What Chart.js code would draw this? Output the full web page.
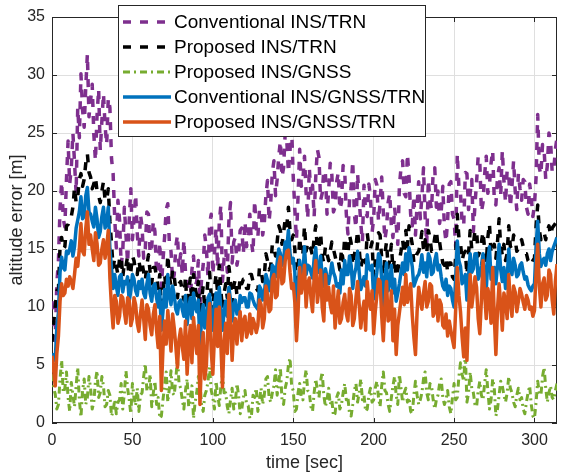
<!DOCTYPE html>
<html>
<head>
<meta charset="utf-8">
<script src="https://cdn.jsdelivr.net/npm/chart.js@4"></script>
<style>
  html, body { margin: 0; padding: 0; background: #fff; }
  #wrap { width: 565px; height: 476px; }
</style>
</head>
<body>
<div id="wrap"><canvas id="chart" width="565" height="476"></canvas></div>
<script>
// sample spacing of the logged errors [sec]
const dt = 1;

// altitude error [m], one value per second from t = 0 to t = 314 (10 s per row)
const convInsTrn = [
  10.5, 9.0, 7.1, 12.0, 14.0, 18.5, 20.8, 17.6, 16.9, 21.0,
  24.3, 20.6, 22.0, 25.0, 22.5, 19.8, 27.2, 24.6, 30.1, 27.0,
  25.5, 29.0, 31.8, 26.4, 27.8, 29.2, 24.9, 22.6, 26.5, 28.8,
  23.5, 26.0, 28.4, 25.6, 24.0, 28.0, 27.2, 22.8, 21.5, 17.6,
  15.1, 19.2, 17.5, 13.6, 14.8, 18.6, 16.2, 13.8, 17.4, 20.2,
  15.8, 17.6, 19.7, 16.4, 14.4, 18.0, 16.9, 14.2, 15.0, 18.2,
  18.0, 14.6, 15.2, 17.4, 16.5, 12.8, 13.5, 15.6, 11.7, 14.0,
  16.0, 18.4, 18.9, 15.4, 14.8, 12.2, 12.8, 15.2, 16.2, 13.4,
  14.6, 12.8, 15.8, 13.0, 12.0, 10.4, 10.5, 13.2, 14.4, 11.8,
  12.2, 14.0, 10.2, 12.4, 13.6, 16.2, 15.0, 12.6, 17.2, 18.0,
  12.8, 14.6, 16.8, 13.4, 17.2, 18.8, 12.2, 14.2, 15.0, 13.0,
  17.4, 19.0, 13.8, 15.6, 16.0, 13.6, 14.5, 16.6, 16.8, 14.6,
  17.4, 15.2, 16.3, 18.0, 15.6, 14.6, 19.2, 16.8, 16.0, 18.4,
  18.5, 16.2, 17.2, 19.6, 20.9, 17.4, 19.0, 21.6, 22.6, 19.6,
  21.0, 23.0, 24.3, 21.2, 22.0, 25.0, 24.3, 21.6, 23.5, 25.4,
  21.2, 18.4, 15.8, 19.6, 23.6, 20.4, 21.0, 23.0, 19.8, 17.6,
  22.0, 19.6, 20.5, 17.8, 21.2, 23.6, 22.9, 19.2, 19.8, 21.8,
  21.5, 18.0, 20.0, 22.4, 21.4, 18.2, 18.6, 20.8, 21.6, 18.4,
  19.0, 22.2, 21.8, 18.0, 16.3, 19.2, 20.3, 22.6, 18.0, 16.8,
  21.5, 19.4, 17.2, 15.6, 20.5, 18.2, 17.8, 20.6, 19.6, 16.4,
  17.6, 21.0, 20.5, 17.4, 19.0, 21.2, 18.2, 15.8, 16.8, 19.0,
  19.8, 17.0, 16.0, 18.6, 17.2, 15.4, 20.4, 22.0, 22.6, 19.8,
  19.5, 23.2, 21.2, 18.0, 17.0, 19.6, 16.2, 18.8, 20.8, 17.6,
  19.5, 22.0, 17.8, 15.4, 21.0, 19.2, 18.4, 21.6, 22.0, 18.6,
  20.0, 17.2, 18.2, 20.4, 16.8, 15.6, 17.5, 20.6, 20.8, 18.0,
  17.6, 15.2, 23.2, 20.4, 19.8, 17.2, 17.0, 21.6, 21.5, 18.4,
  19.8, 21.0, 16.5, 18.8, 20.8, 23.0, 22.5, 18.2, 19.0, 21.4,
  23.0, 19.8, 20.5, 22.4, 23.5, 19.2, 18.8, 21.2, 22.0, 19.6,
  23.5, 20.8, 19.0, 21.8, 21.4, 18.6, 20.4, 22.6, 20.0, 18.4,
  21.5, 20.2, 19.2, 21.0, 20.8, 18.6, 18.0, 20.6, 19.5, 17.8,
  18.8, 21.2, 26.6, 22.0, 21.4, 24.0, 23.5, 21.0, 22.2, 25.0,
  24.3, 21.6, 21.8, 23.6, 24.6
];
const propInsTrn = [
  7.0, 8.6, 10.0, 11.4, 11.5, 15.2, 16.0, 15.0, 15.2, 17.0,
  17.1, 17.6, 17.8, 18.6, 20.3, 19.0, 19.5, 21.0, 21.5, 20.4,
  21.0, 22.4, 23.2, 21.6, 21.2, 20.2, 20.6, 21.2, 20.0, 19.6,
  19.0, 20.0, 20.8, 19.2, 19.2, 20.2, 17.4, 15.5, 13.4, 14.2,
  13.5, 12.8, 14.2, 14.4, 12.6, 13.8, 13.5, 14.4, 12.0, 13.0,
  14.4, 14.0, 13.0, 12.8, 14.0, 13.2, 13.8, 13.0, 12.3, 13.6,
  14.5, 13.0, 12.0, 13.4, 13.4, 12.6, 11.6, 12.8, 9.4, 11.2,
  12.8, 11.6, 14.5, 12.6, 11.8, 13.2, 12.6, 11.4, 10.8, 12.0,
  12.2, 11.4, 10.6, 12.6, 9.8, 11.4, 12.5, 10.6, 12.8, 11.6,
  11.0, 12.2, 8.2, 10.6, 11.8, 9.8, 10.6, 12.4, 13.0, 11.0,
  9.6, 11.6, 12.8, 11.2, 13.6, 11.4, 9.8, 11.2, 12.0, 10.8,
  13.5, 12.2, 10.4, 11.8, 12.4, 11.0, 11.0, 12.6, 12.0, 12.4,
  12.4, 11.6, 11.6, 12.8, 12.8, 12.2, 11.8, 11.6, 11.4, 13.4,
  13.2, 12.2, 12.6, 14.6, 14.0, 13.2, 13.5, 15.4, 15.2, 14.4,
  15.6, 17.0, 16.6, 15.4, 16.4, 17.6, 17.0, 18.6, 16.6, 15.8,
  16.2, 15.0, 10.0, 13.2, 16.0, 14.4, 14.6, 17.0, 14.8, 15.6,
  15.2, 15.0, 14.4, 16.0, 17.0, 15.0, 15.0, 16.4, 14.4, 13.8,
  15.2, 14.6, 14.0, 14.8, 15.6, 15.0, 14.4, 13.8, 14.0, 13.2,
  15.0, 14.0, 16.0, 14.6, 14.6, 16.2, 15.5, 13.6, 14.5, 15.2,
  16.6, 15.0, 13.4, 14.0, 14.5, 13.8, 16.4, 15.2, 15.0, 15.6,
  12.6, 14.0, 14.8, 16.4, 16.2, 14.2, 12.0, 14.6, 15.6, 13.4,
  14.0, 15.4, 13.2, 14.2, 12.6, 13.2, 14.0, 14.8, 15.8, 14.6,
  16.6, 15.2, 17.0, 16.2, 15.4, 13.8, 14.2, 14.6, 14.8, 15.4,
  16.5, 15.0, 15.8, 14.6, 16.6, 16.0, 14.8, 15.0, 16.0, 16.6,
  15.2, 15.6, 14.6, 13.8, 13.6, 14.2, 13.0, 13.8, 13.8, 12.6,
  12.4, 14.4, 18.0, 16.0, 15.5, 14.0, 14.6, 14.8, 12.8, 14.6,
  16.6, 15.0, 15.4, 16.6, 16.6, 14.4, 14.8, 15.6, 16.5, 15.0,
  13.8, 16.0, 17.2, 14.6, 15.0, 15.4, 14.2, 15.6, 17.6, 15.2,
  14.5, 15.4, 14.0, 14.6, 17.0, 15.2, 15.0, 16.2, 15.8, 14.8,
  15.0, 15.6, 15.8, 15.2, 14.6, 14.6, 14.0, 13.8, 13.6, 14.0,
  14.2, 17.0, 18.8, 16.6, 15.8, 16.2, 16.4, 15.8, 16.6, 17.0,
  16.2, 16.8, 17.0, 17.2, 17.4
];
const propInsGnss = [
  4.2, 3.0, 2.5, 1.2, 1.6, 3.8, 5.4, 2.6, 3.0, 4.4,
  2.2, 1.0, 3.5, 2.4, 1.4, 3.2, 4.8, 2.0, 0.5, 2.8,
  3.8, 1.6, 2.2, 4.0, 3.0, 1.2, 1.8, 3.6, 4.5, 2.2,
  2.6, 4.0, 3.2, 1.4, 1.6, 2.8, 2.4, 0.6, 1.0, 2.0,
  0.8, 1.8, 2.0, 3.4, 1.2, 2.6, 4.5, 3.0, 2.0, 0.8,
  3.4, 2.2, 1.5, 3.0, 1.0, 2.4, 2.6, 4.0, 5.1, 2.8,
  2.8, 4.2, 1.4, 2.6, 3.6, 1.6, 2.2, 0.4, 0.6, 2.0,
  3.2, 4.4, 1.8, 3.0, 4.5, 2.6, 2.4, 3.8, 5.6, 3.4,
  3.0, 2.0, 1.2, 2.8, 3.8, 1.4, 2.0, 3.2, 0.4, 1.8,
  2.6, 4.0, 3.5, 1.6, 1.0, 2.4, 2.8, 3.6, 4.8, 2.8,
  2.2, 1.2, 3.6, 2.4, 1.5, 3.2, 4.2, 2.6, 2.6, 1.4,
  0.8, 2.0, 3.0, 1.2, 1.8, 3.4, 2.4, 0.8, 1.2, 2.2,
  2.8, 1.6, 1.5, 0.4, 0.6, 2.4, 2.2, 3.0, 1.0, 2.0,
  3.0, 1.6, 2.4, 3.8, 4.0, 2.2, 1.8, 2.6, 3.2, 4.6,
  2.4, 3.4, 4.8, 2.0, 1.6, 3.0, 3.6, 5.0, 5.6, 3.2,
  2.8, 1.0, 1.2, 2.6, 3.4, 2.2, 2.0, 3.6, 4.6, 2.8,
  2.6, 1.4, 1.0, 2.6, 3.8, 2.8, 2.2, 3.6, 4.4, 2.4,
  1.4, 2.0, 3.0, 1.6, 2.0, 0.6, 0.8, 2.2, 2.6, 1.2,
  1.6, 2.6, 3.4, 2.0, 2.2, 0.8, 0.6, 1.6, 2.8, 3.4,
  1.8, 2.6, 3.8, 2.0, 2.4, 1.0, 1.2, 2.4, 3.0, 1.8,
  2.0, 3.0, 3.6, 2.2, 1.4, 3.2, 4.4, 2.8, 2.6, 1.6,
  1.0, 2.2, 3.2, 4.0, 2.4, 1.6, 4.2, 3.0, 1.8, 2.6,
  3.0, 1.8, 2.2, 1.0, 0.8, 2.4, 3.6, 2.4, 1.6, 2.0,
  2.6, 3.8, 4.4, 2.6, 2.0, 3.4, 3.2, 2.0, 1.2, 2.0,
  2.4, 3.4, 3.8, 2.2, 1.6, 2.0, 2.8, 1.4, 0.8, 2.2,
  3.4, 2.0, 2.2, 4.0, 5.2, 4.2, 3.6, 6.0, 1.8, 2.6,
  4.4, 3.0, 2.6, 1.6, 1.4, 2.8, 3.6, 2.4, 2.0, 3.4,
  4.6, 2.8, 1.2, 2.0, 3.8, 3.0, 0.6, 1.2, 2.4, 3.6,
  3.2, 2.4, 1.8, 2.6, 4.0, 3.0, 2.6, 1.8, 1.4, 2.4,
  3.0, 2.0, 2.2, 1.2, 0.8, 1.8, 2.6, 3.2, 1.6, 0.6,
  0.4, 1.8, 3.6, 2.6, 2.4, 4.0, 4.8, 3.0, 1.8, 2.6,
  3.2, 2.2, 2.0, 2.8, 3.4
];
const convInsGnssTrn = [
  6.0, 5.6, 5.4, 8.2, 9.5, 13.0, 14.3, 13.4, 13.2, 14.8,
  14.6, 15.0, 15.7, 14.4, 15.2, 16.8, 17.5, 18.2, 19.5, 17.6,
  17.8, 19.6, 20.3, 18.2, 18.0, 17.4, 16.9, 18.6, 17.6, 16.0,
  16.5, 17.8, 18.6, 16.8, 17.3, 18.6, 15.0, 13.4, 11.6, 12.8,
  11.8, 11.0, 12.6, 12.8, 11.3, 12.2, 12.0, 12.6, 10.5, 11.4,
  12.8, 12.4, 11.4, 11.0, 12.2, 11.6, 12.4, 11.2, 10.8, 12.0,
  12.8, 11.2, 10.5, 11.8, 12.0, 10.8, 10.0, 11.4, 8.0, 9.6,
  11.5, 10.0, 12.8, 11.0, 10.2, 11.8, 11.0, 9.8, 9.4, 10.4,
  10.6, 9.8, 9.2, 11.0, 8.5, 9.8, 10.8, 9.0, 11.2, 10.0,
  9.6, 10.6, 6.5, 9.0, 10.2, 8.2, 9.0, 10.8, 11.1, 9.4,
  8.0, 10.0, 11.2, 9.6, 11.7, 9.8, 8.0, 9.6, 10.5, 9.2,
  11.7, 10.6, 8.8, 10.2, 10.6, 9.4, 9.5, 11.0, 10.4, 10.8,
  10.8, 10.0, 10.0, 11.2, 11.1, 10.6, 10.2, 10.0, 9.8, 11.8,
  11.5, 10.6, 11.0, 12.8, 12.3, 11.4, 11.8, 13.6, 13.4, 12.6,
  13.8, 15.0, 14.6, 13.6, 14.0, 15.6, 15.1, 16.6, 14.6, 13.8,
  14.2, 13.0, 8.2, 11.4, 14.0, 12.4, 12.8, 15.2, 12.8, 13.6,
  13.5, 13.0, 12.5, 14.2, 15.1, 13.0, 13.0, 14.4, 12.6, 11.8,
  13.3, 12.6, 12.0, 12.8, 13.8, 13.0, 12.6, 11.8, 12.0, 11.2,
  13.2, 12.0, 14.0, 12.8, 12.8, 14.4, 13.6, 11.6, 12.8, 13.4,
  14.8, 13.0, 11.5, 12.0, 12.6, 11.8, 14.5, 13.4, 13.2, 13.6,
  10.7, 12.0, 13.0, 14.6, 14.3, 12.4, 10.0, 12.6, 13.8, 11.4,
  12.0, 13.6, 11.2, 12.4, 10.5, 11.2, 12.0, 13.0, 13.8, 12.8,
  14.6, 13.2, 15.1, 14.4, 13.5, 11.8, 12.2, 12.6, 12.8, 13.4,
  14.5, 13.0, 13.8, 12.6, 14.6, 14.2, 12.8, 13.0, 14.0, 14.6,
  13.2, 13.6, 12.6, 11.8, 11.5, 12.4, 11.0, 11.8, 11.6, 10.6,
  10.0, 12.4, 15.7, 14.0, 13.5, 12.0, 12.4, 12.8, 10.6, 12.6,
  14.6, 13.0, 13.3, 14.6, 14.6, 12.4, 12.8, 13.6, 14.6, 13.0,
  11.5, 14.0, 15.2, 12.4, 12.8, 13.4, 12.0, 13.6, 15.4, 13.2,
  12.2, 13.4, 11.6, 12.4, 15.0, 13.2, 12.8, 14.2, 13.6, 12.6,
  12.8, 13.6, 13.8, 13.0, 12.4, 12.6, 11.9, 11.6, 11.4, 11.8,
  12.0, 15.2, 17.4, 14.6, 13.5, 14.0, 14.2, 13.6, 14.6, 15.0,
  14.0, 14.8, 15.2, 15.6, 16.0
];
const propInsGnssTrn = [
  5.8, 4.6, 3.2, 6.0, 7.5, 10.5, 12.0, 11.0, 11.2, 12.4,
  11.8, 12.6, 12.2, 11.6, 12.8, 14.2, 13.5, 15.0, 17.2, 14.8,
  14.5, 16.8, 18.2, 15.4, 16.2, 15.0, 14.0, 16.4, 15.5, 13.6,
  13.8, 15.0, 15.8, 14.2, 15.2, 16.6, 12.5, 10.0, 8.2, 11.0,
  10.5, 8.6, 9.2, 11.0, 10.8, 9.6, 8.6, 10.8, 10.6, 8.4,
  9.0, 10.8, 10.2, 8.6, 7.9, 9.4, 10.6, 9.0, 7.2, 10.2,
  9.8, 8.4, 7.6, 9.4, 10.2, 8.0, 6.5, 9.2, 2.8, 6.4,
  8.8, 6.8, 9.7, 8.0, 6.2, 9.4, 8.2, 6.6, 4.8, 7.2,
  8.1, 6.6, 5.5, 8.8, 4.2, 6.8, 8.4, 5.2, 9.1, 7.4,
  6.0, 8.4, 1.6, 5.8, 7.8, 3.8, 5.0, 8.6, 10.3, 6.2,
  4.2, 7.4, 9.8, 6.6, 10.0, 6.8, 3.1, 7.0, 8.6, 6.0,
  11.1, 8.8, 5.4, 8.2, 9.0, 6.8, 8.5, 9.6, 7.1, 8.8,
  9.2, 7.4, 8.0, 9.4, 7.7, 9.0, 8.5, 7.8, 8.4, 10.6,
  10.2, 8.2, 9.0, 11.8, 11.1, 9.6, 9.8, 12.4, 12.8, 10.8,
  11.0, 13.6, 14.3, 12.0, 12.2, 14.0, 14.8, 14.9, 13.0, 11.6,
  12.0, 10.4, 7.1, 9.6, 13.4, 11.2, 12.0, 13.6, 10.0, 12.0,
  12.5, 10.8, 9.6, 12.6, 14.0, 10.4, 11.5, 13.2, 10.0, 8.8,
  12.8, 10.6, 11.7, 10.2, 9.5, 11.8, 8.2, 9.8, 11.4, 8.6,
  9.0, 10.4, 11.1, 9.4, 8.8, 11.6, 11.0, 8.4, 9.0, 10.8,
  12.2, 10.2, 8.2, 9.6, 10.5, 8.0, 12.2, 10.6, 9.8, 11.4,
  7.7, 9.6, 11.0, 12.4, 12.2, 9.2, 7.1, 10.2, 12.2, 8.8,
  9.0, 11.4, 7.1, 9.8, 5.9, 8.4, 9.5, 10.6, 11.7, 10.2,
  12.8, 10.4, 11.1, 12.0, 9.3, 7.4, 5.9, 9.6, 11.7, 10.6,
  9.8, 11.2, 12.2, 10.0, 10.5, 12.0, 11.8, 9.2, 9.6, 11.0,
  8.8, 10.6, 10.2, 8.4, 8.2, 9.4, 7.5, 8.8, 8.0, 7.2,
  6.5, 9.8, 13.4, 11.0, 9.6, 7.4, 5.7, 8.2, 5.4, 9.6,
  12.8, 10.0, 11.2, 12.6, 11.7, 9.0, 7.7, 10.6, 14.0, 11.2,
  9.0, 11.6, 10.8, 8.6, 13.4, 9.2, 5.9, 9.8, 12.0, 10.2,
  8.0, 11.2, 10.5, 9.0, 12.8, 10.4, 9.2, 11.8, 11.3, 9.6,
  10.5, 11.6, 11.1, 10.4, 9.8, 11.0, 10.6, 9.8, 10.0, 9.2,
  9.7, 13.0, 15.4, 11.8, 10.0, 12.0, 12.5, 10.6, 11.0, 13.2,
  12.8, 10.6, 9.4, 12.2, 13.7
];

const seriesNames = [
  'Conventional INS/TRN',
  'Proposed INS/TRN',
  'Proposed INS/GNSS',
  'Conventional INS/GNSS/TRN',
  'Proposed INS/GNSS/TRN'
];
const seriesColors = ['#7E2F8E', '#000000', '#77AC30', '#0072BD', '#D95319'];
const seriesDash = [[8, 9], [8, 9], [7, 4, 2, 4], [], []];
const seriesWidth = [3.5, 3.5, 3, 3.5, 3.5];
const seriesValues = [convInsTrn, propInsTrn, propInsGnss, convInsGnssTrn, propInsGnssTrn];

const xTickLabels = ['0', '50', '100', '150', '200', '250', '300'];
const yTickLabels = ['0', '5', '10', '15', '20', '25', '30', '35'];

const FONT = "'Liberation Sans', Arial, Helvetica, sans-serif";
const AXIS_COLOR = '#262626';
const GRID_COLOR = '#dfdfdf';

const datasets = seriesValues.map((vals, i) => ({
  label: seriesNames[i],
  data: vals.map((v, k) => ({ x: k * dt, y: v })),
  borderColor: seriesColors[i],
  borderWidth: seriesWidth[i],
  borderDash: seriesDash[i],
  borderJoinStyle: 'round',
  pointRadius: 0,
  tension: 0,
  fill: false,
  order: seriesValues.length - i   // later series drawn on top
}));

// box round the axes and MATLAB-style inward ticks on all four sides
const axesBox = {
  id: 'axesBox',
  beforeDatasetsDraw(chart) {
    const { ctx, chartArea: a, scales: { x, y } } = chart;
    ctx.save();
    ctx.strokeStyle = AXIS_COLOR;
    ctx.lineWidth = 1;
    ctx.beginPath();
    x.ticks.forEach(t => {
      const px = Math.round(x.getPixelForValue(t.value)) + 0.5;
      ctx.moveTo(px, a.bottom); ctx.lineTo(px, a.bottom - 5);
      ctx.moveTo(px, a.top); ctx.lineTo(px, a.top + 5);
    });
    y.ticks.forEach(t => {
      const py = Math.round(y.getPixelForValue(t.value)) + 0.5;
      ctx.moveTo(a.left, py); ctx.lineTo(a.left + 5, py);
      ctx.moveTo(a.right, py); ctx.lineTo(a.right - 5, py);
    });
    ctx.stroke();
    ctx.strokeRect(Math.round(a.left) + 0.5, Math.round(a.top) + 0.5,
                   Math.round(a.width) - 1, Math.round(a.height) - 1);
    ctx.restore();
  }
};

// legend box in the upper left, overlapping the top of the axes
const boxLegend = {
  id: 'boxLegend',
  afterDraw(chart) {
    const ctx = chart.ctx;
    const left = 118, top = 5, w = 307, h = 131;
    ctx.save();
    ctx.fillStyle = '#ffffff';
    ctx.fillRect(left, top, w, h);
    ctx.strokeStyle = AXIS_COLOR;
    ctx.lineWidth = 1;
    ctx.strokeRect(left + 0.5, top + 0.5, w, h);
    ctx.font = '19px ' + FONT;
    ctx.textBaseline = 'middle';
    ctx.textAlign = 'left';
    seriesNames.forEach((name, i) => {
      const cy = 22 + i * 25;
      ctx.beginPath();
      ctx.strokeStyle = seriesColors[i];
      ctx.lineWidth = seriesWidth[i];
      ctx.setLineDash(seriesDash[i]);
      ctx.moveTo(123, cy);
      ctx.lineTo(171, cy);
      ctx.stroke();
      ctx.setLineDash([]);
      ctx.fillStyle = '#000000';
      ctx.fillText(name, 174, cy + 1);
    });
    ctx.restore();
  }
};

new Chart(document.getElementById('chart'), {
  type: 'line',
  data: { datasets },
  options: {
    responsive: false,
    animation: false,
    devicePixelRatio: 1,
    layout: { padding: { top: 17, right: 8, left: 0, bottom: 0 } },
    plugins: { legend: { display: false }, tooltip: { enabled: false } },
    scales: {
      x: {
        type: 'linear',
        min: 0,
        max: 314,
        afterFit: s => { s.height = 53; },
        afterBuildTicks: s => { s.ticks = xTickLabels.map(v => ({ value: Number(v) })); },
        ticks: { color: AXIS_COLOR, font: { family: FONT, size: 16 }, padding: 8, maxRotation: 0 },
        grid: { color: GRID_COLOR, drawTicks: false },
        border: { display: false },
        title: { display: true, text: 'time [sec]', color: AXIS_COLOR,
                 font: { family: FONT, size: 18 }, padding: { top: 0, bottom: 2 } }
      },
      y: {
        min: 0,
        max: 35,
        afterFit: s => { s.width = 52; },
        afterBuildTicks: s => { s.ticks = yTickLabels.map(v => ({ value: Number(v) })); },
        ticks: { color: AXIS_COLOR, font: { family: FONT, size: 16 }, padding: 7 },
        grid: { color: GRID_COLOR, drawTicks: false },
        border: { display: false },
        title: { display: true, text: 'altitude error [m]', color: AXIS_COLOR,
                 font: { family: FONT, size: 18 }, padding: { top: 6, bottom: 0 } }
      }
    }
  },
  plugins: [axesBox, boxLegend]
});
</script>
</body>
</html>
